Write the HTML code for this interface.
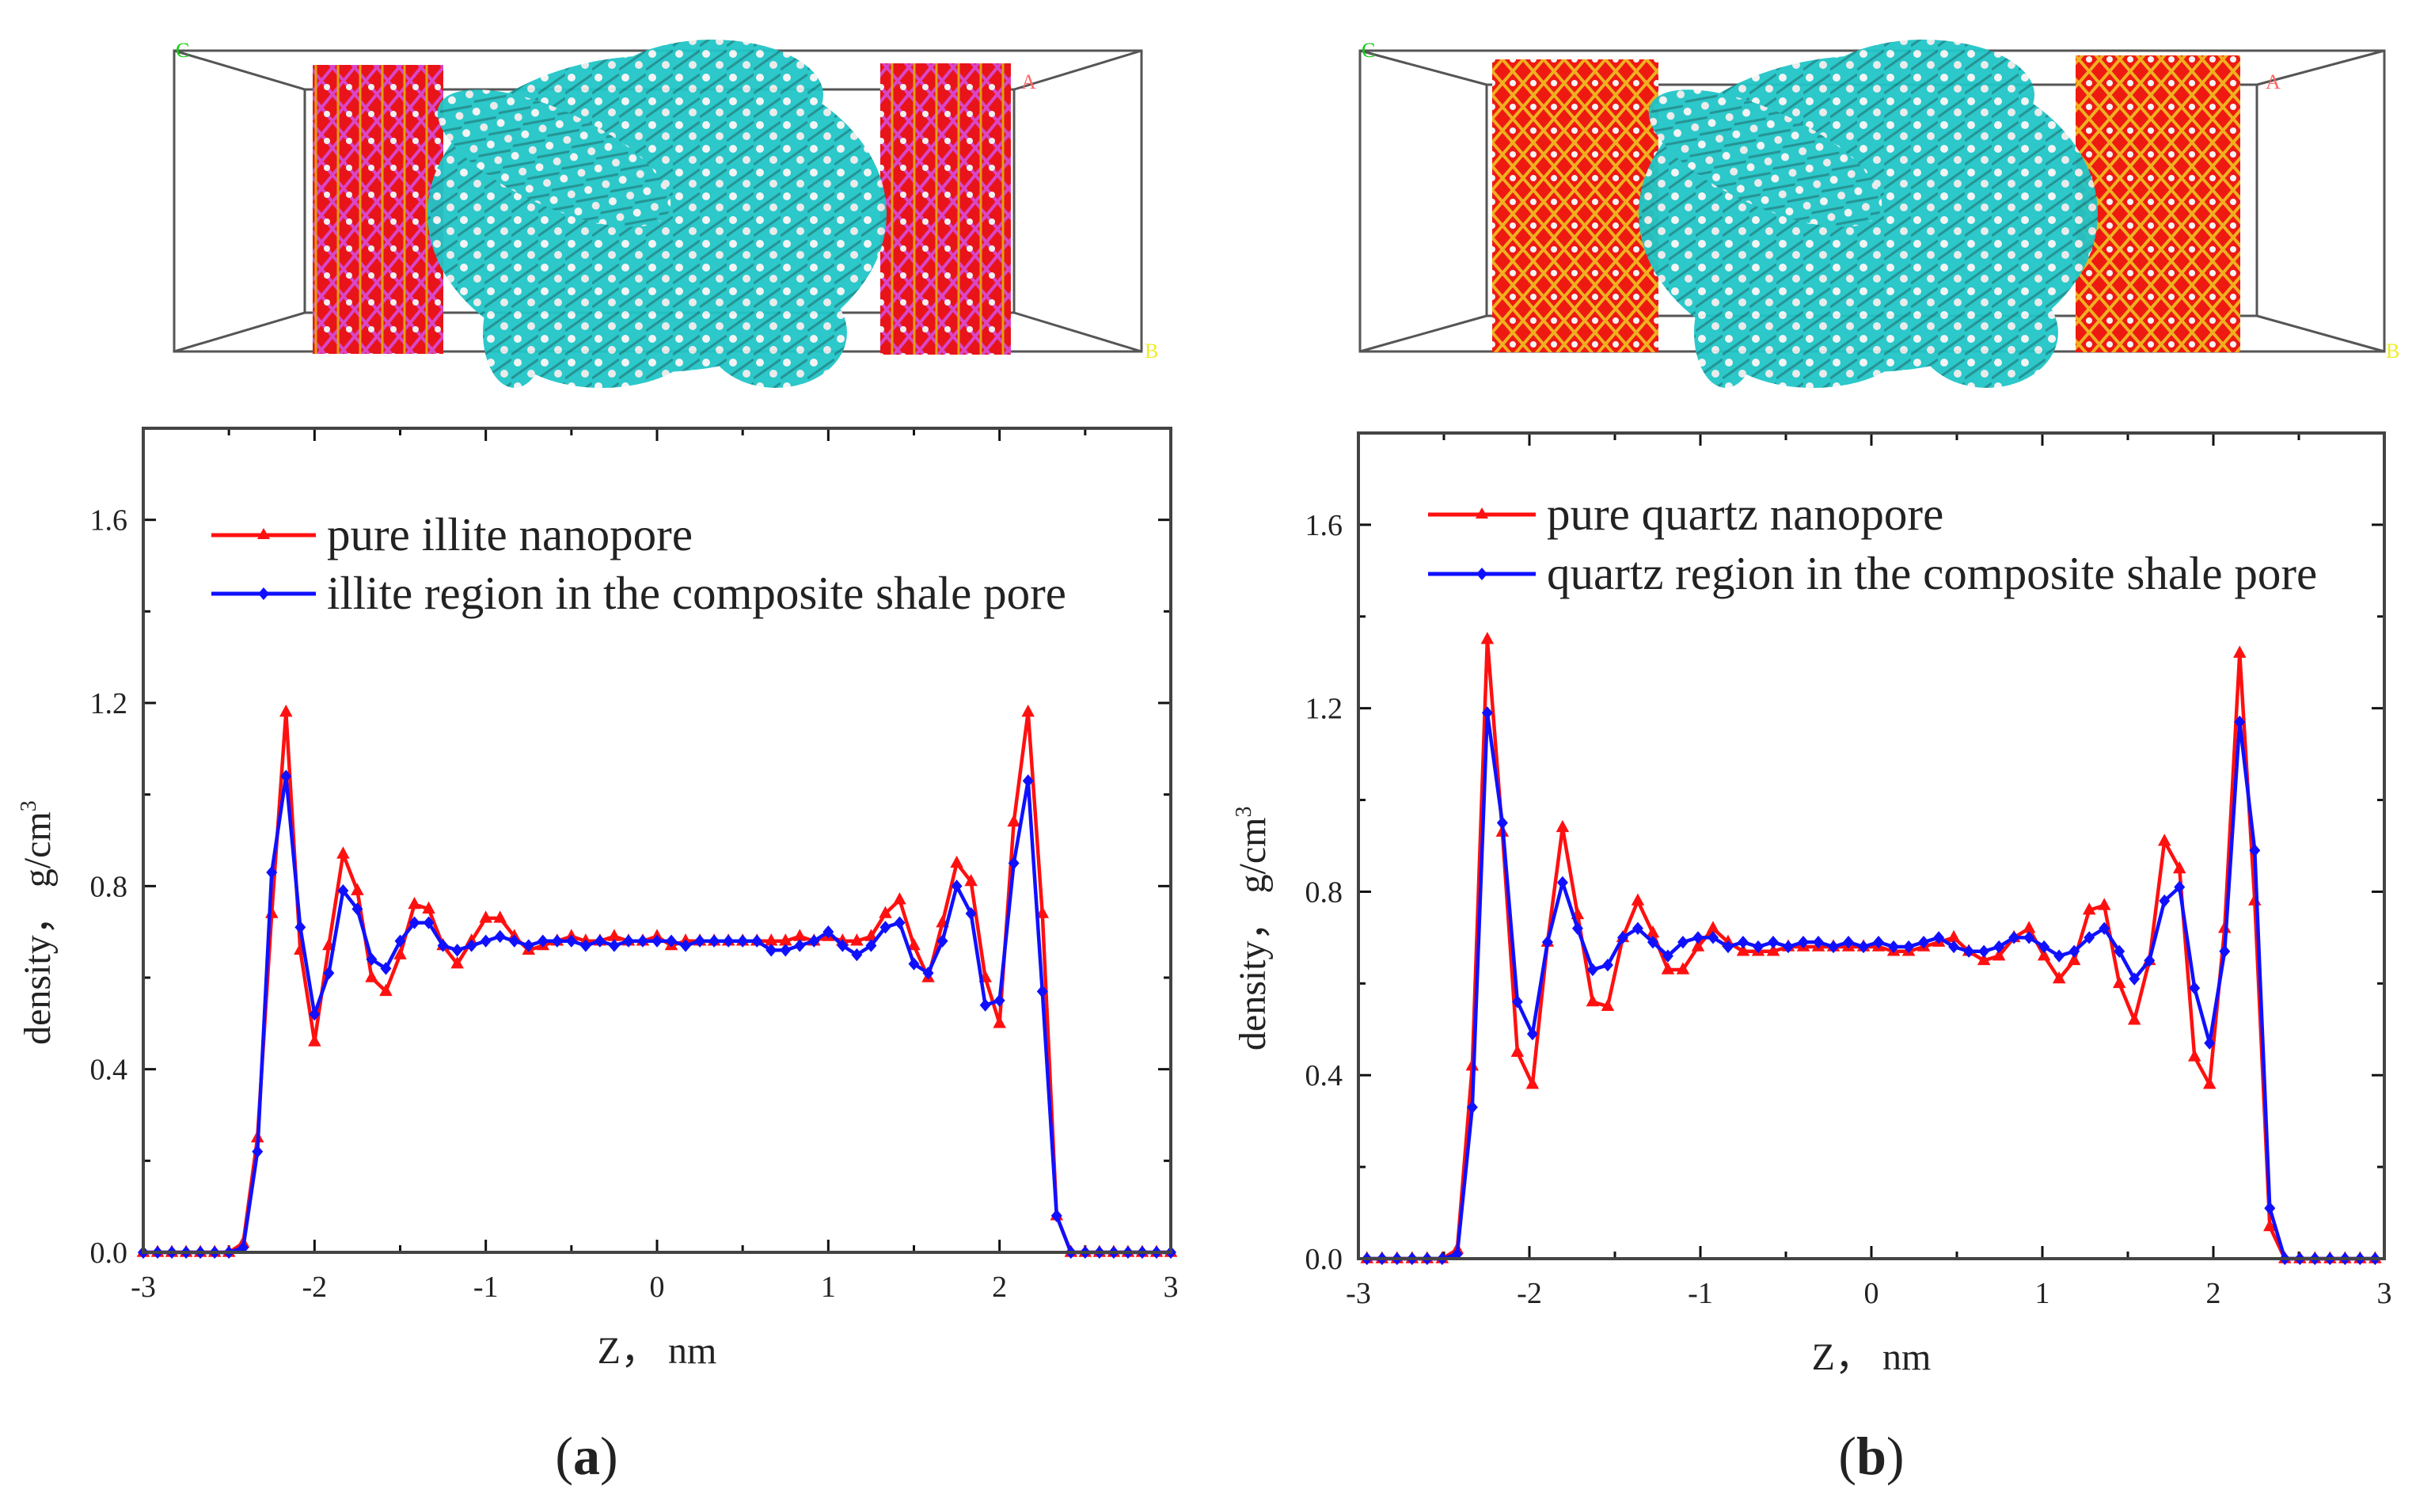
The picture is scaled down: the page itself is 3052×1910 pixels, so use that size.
<!DOCTYPE html>
<html><head><meta charset="utf-8"><style>
html,body{margin:0;padding:0;background:#fff;}
svg{display:block;}
text{font-family:"Liberation Serif",serif;fill:#222;}
</style></head><body>
<svg id="fig" width="3052" height="1910" viewBox="0 0 3052 1910" xmlns="http://www.w3.org/2000/svg">
<defs>
<pattern id="slabA" width="28" height="34" patternUnits="userSpaceOnUse">
<rect width="28" height="34" fill="#e8141a"/>
<path d="M0 17 L14 0 L28 17 L14 34 Z" fill="none" stroke="#d946c8" stroke-width="4"/>
<path d="M7 0 L7 34" stroke="#e0a010" stroke-width="3"/>
<circle cx="21" cy="8" r="4" fill="#f0f0f0"/>
</pattern>
<pattern id="slabB" width="26" height="30" patternUnits="userSpaceOnUse">
<rect width="26" height="30" fill="#ee1a12"/>
<path d="M0 15 L13 0 L26 15 L13 30 Z" fill="none" stroke="#f0b020" stroke-width="4"/>
<circle cx="13" cy="15" r="4" fill="#f5f5f5"/>
</pattern>
<pattern id="oil" width="34" height="30" patternUnits="userSpaceOnUse">
<rect width="34" height="30" fill="#21c6c8"/>
<circle cx="8" cy="8" r="5" fill="#f4f4f4"/>
<circle cx="25" cy="22" r="5" fill="#eaeaea"/>
<path d="M0 28 L34 4" stroke="#1a8f90" stroke-width="3"/>
</pattern>
</defs>
<g id="topA">
<path d="M220 64 H1442 V444 H220 Z M385 113 H1281 V395 H385 Z M220 64 L385 113 M1442 64 L1281 113 M220 444 L385 395 M1442 444 L1281 395" fill="none" stroke="#555" stroke-width="3"/>
<rect x="395" y="82" width="165" height="365" fill="url(#slabA)"/>
<rect x="1112" y="80" width="165" height="368" fill="url(#slabA)"/>
<g fill="url(#oil)" opacity="0.95">
<ellipse cx="830" cy="270" rx="290" ry="200"/>
<ellipse cx="700" cy="200" rx="160" ry="60" transform="rotate(25 700 200)"/>
<ellipse cx="900" cy="120" rx="140" ry="70"/>
<ellipse cx="760" cy="430" rx="120" ry="60"/>
<ellipse cx="980" cy="420" rx="90" ry="70"/>
<ellipse cx="650" cy="420" rx="40" ry="70"/>
</g>
<text x="222" y="72" font-size="26" style="fill:#1c1">C</text>
<text x="1290" y="112" font-size="26" style="fill:#f66">A</text>
<text x="1446" y="452" font-size="26" style="fill:#ee2">B</text>
</g>
<g id="topB">
<path d="M1718 64 H3012 V444 H1718 Z M1878 107 H2851 V399 H1878 Z M1718 64 L1878 107 M3012 64 L2851 107 M1718 444 L1878 399 M3012 444 L2851 399" fill="none" stroke="#555" stroke-width="3"/>
<rect x="1885" y="75" width="210" height="370" fill="url(#slabB)"/>
<rect x="2622" y="70" width="208" height="375" fill="url(#slabB)"/>
<g fill="url(#oil)" opacity="0.95">
<ellipse cx="2360" cy="270" rx="290" ry="200"/>
<ellipse cx="2230" cy="200" rx="160" ry="60" transform="rotate(25 2230 200)"/>
<ellipse cx="2430" cy="120" rx="140" ry="70"/>
<ellipse cx="2290" cy="430" rx="120" ry="60"/>
<ellipse cx="2510" cy="420" rx="90" ry="70"/>
<ellipse cx="2180" cy="420" rx="40" ry="70"/>
</g>
<text x="1720" y="72" font-size="26" style="fill:#1c1">C</text>
<text x="2862" y="112" font-size="26" style="fill:#f66">A</text>
<text x="3014" y="452" font-size="26" style="fill:#ee2">B</text>
</g>
<g id="chartA"></g>
<g id="chartB"></g>
</svg>
<script>
// Chart (a): x = -3 + i/12 (73 points)
const xStepA = 1/12;
const redA = [0,0,0,0,0,0,0,0.02,0.25,0.74,1.18,0.66,0.46,0.67,0.87,0.79,0.60,0.57,0.65,0.76,0.75,0.67,0.63,0.68,0.73,0.73,0.69,0.66,
0.67,0.68,0.69,0.68,0.68,0.69,0.68,0.68,0.69,0.67,0.68,0.68,0.68,0.68,0.68,0.68,0.68,0.68,0.69,0.68,
0.69,0.68,0.68,0.69,0.74,0.77,0.67,0.60,0.72,0.85,0.81,0.60,0.50,0.94,1.18,0.74,0.08,0,0,0,0,0,0,0,0];
const blueA = [0,0,0,0,0,0,0,0.01,0.22,0.83,1.04,0.71,0.52,0.61,0.79,0.75,0.64,0.62,0.68,0.72,0.72,0.67,0.66,0.67,0.68,0.69,0.68,0.67,
0.68,0.68,0.68,0.67,0.68,0.67,0.68,0.68,0.68,0.68,0.67,0.68,0.68,0.68,0.68,0.68,0.66,0.66,0.67,0.68,
0.70,0.67,0.65,0.67,0.71,0.72,0.63,0.61,0.68,0.80,0.74,0.54,0.55,0.85,1.03,0.57,0.08,0,0,0,0,0,0,0,0];
// Chart (b): x = -2.95 + i*0.088
const xStartB = -2.95, xStepB = 0.088;
const redB = [0,0,0,0,0,0,0.02,0.42,1.35,0.93,0.45,0.38,0.69,0.94,0.75,0.56,0.55,0.70,0.78,0.71,0.63,0.63,0.68,0.72,0.69,0.67,0.67,0.67,0.68,0.68,0.68,0.68,0.68,0.68,0.68,0.67,0.67,0.68,0.69,0.70,0.67,0.65,0.66,0.70,0.72,0.66,0.61,0.65,0.76,0.77,0.60,0.52,0.65,0.91,0.85,0.44,0.38,0.72,1.32,0.78,0.07,0,0,0,0,0,0,0];
const blueB = [0,0,0,0,0,0,0.01,0.33,1.19,0.95,0.56,0.49,0.69,0.82,0.72,0.63,0.64,0.70,0.72,0.69,0.66,0.69,0.70,0.70,0.68,0.69,0.68,0.69,0.68,0.69,0.69,0.68,0.69,0.68,0.69,0.68,0.68,0.69,0.70,0.68,0.67,0.67,0.68,0.70,0.70,0.68,0.66,0.67,0.70,0.72,0.67,0.61,0.65,0.78,0.81,0.59,0.47,0.67,1.17,0.89,0.11,0,0,0,0,0,0,0];
const xTicks = [-3,-2,-1,0,1,2,3];
const yTicks = [0.0,0.4,0.8,1.2,1.6];
const legendA = ["pure illite nanopore","illite region in the composite shale pore"];
const legendB = ["pure quartz nanopore","quartz region in the composite shale pore"];

const NS="http://www.w3.org/2000/svg";
function mk(parent,tag,attrs,txt){const e=document.createElementNS(NS,tag);for(const k in attrs)e.setAttribute(k,attrs[k]);if(txt!==undefined)e.textContent=txt;parent.appendChild(e);return e;}

function drawChart(g, box, xs, red, blue, legend, lg, letter, cap){
  const X=v=>box.l+(v+3)/6*(box.r-box.l);
  const Y=v=>box.b-v/1.8*(box.b-box.t);
  for(let k=0;k<=12;k++){
    const v=-3+k*0.5, major=k%2===0, L=major?16:9;
    const t1=mk(g,'line',{x1:X(v),x2:X(v),y1:box.b,y2:box.b-L,stroke:'#111','stroke-width':3});
    
    
    const t2=mk(g,'line',{x1:X(v),x2:X(v),y1:box.t,y2:box.t+L,stroke:'#111','stroke-width':3});
    
    
  }
  for(let k=0;k<=9;k++){
    const v=k*0.2, major=k%2===0, L=major?16:9;
    const t1=mk(g,'line',{x1:box.l,x2:box.l+L,y1:Y(v),y2:Y(v),stroke:'#111','stroke-width':3});
    
    
    const t2=mk(g,'line',{x1:box.r,x2:box.r-L,y1:Y(v),y2:Y(v),stroke:'#111','stroke-width':3});
    
    
  }
  xTicks.forEach(v=>{
    const t=mk(g,'text',{x:X(v),y:box.b+56,'font-size':38,'text-anchor':'middle'},String(v));
    
    
  });
  yTicks.forEach(v=>{
    const t=mk(g,'text',{x:box.l-20,y:Y(v)+13,'font-size':38,'text-anchor':'end'},v.toFixed(1));
    
    
  });
  function series(vals,color,marker,name){
    const pts=vals.map((v,i)=>[X(xs(i)),Y(v)]);
    const pl=mk(g,'polyline',{points:pts.map(p=>p.join(',')).join(' '),fill:'none',stroke:color,'stroke-width':4.5,'stroke-linejoin':'round'});
    
    
    pts.forEach(p=>{
      let m;
      if(marker==='tri') m=mk(g,'path',{d:`M${p[0]} ${p[1]-8} L${p[0]+7} ${p[1]+5} L${p[0]-7} ${p[1]+5} Z`,fill:color,stroke:color,'stroke-width':1.5});
      else m=mk(g,'path',{d:`M${p[0]} ${p[1]-7} L${p[0]+6} ${p[1]} L${p[0]} ${p[1]+7} L${p[0]-6} ${p[1]} Z`,fill:color,stroke:color,'stroke-width':1.5});
      
      
    });
  }
  series(red,'#ff1010','tri','red-series');
  series(blue,'#1010ff','dia','blue-series');
  const f=mk(g,'rect',{x:box.l,y:box.t,width:box.r-box.l,height:box.b-box.t,fill:'none',stroke:'#444','stroke-width':4});
  
  
  [[legend[0],'#ff1010','tri',lg.y1],[legend[1],'#1010ff','dia',lg.y2]].forEach(([t,c,mkr,y])=>{
    const ln=mk(g,'line',{x1:lg.x1,x2:lg.x2,y1:y,y2:y,stroke:c,'stroke-width':5});
    
    
    const cx=(lg.x1+lg.x2)/2;
    const m=mkr==='tri'?mk(g,'path',{d:`M${cx} ${y-9} L${cx+8} ${y+5} L${cx-8} ${y+5} Z`,fill:c}):mk(g,'path',{d:`M${cx} ${y-8} L${cx+7} ${y} L${cx} ${y+8} L${cx-7} ${y} Z`,fill:c});
    
    
    const tx=mk(g,'text',{x:lg.x2+14,y:y+19,'font-size':59},t);
    
    
  });
  const cx=(box.l+box.r)/2;
  const xt=mk(g,'text',{x:cx,y:box.b+140,'font-size':48,'text-anchor':'middle'},'Z，  nm');
  
  
  const yt=mk(g,'text',{x:0,y:0,'font-size':48,'text-anchor':'middle',transform:`translate(${box.l-118},${Y(0.72)}) rotate(-90)`});
  
  
  mk(yt,'tspan',{},'density，  g/cm');
  mk(yt,'tspan',{'font-size':28,dy:-18},'3');
  const cp=mk(g,'text',{x:cap.x,y:cap.y,'font-size':68,'text-anchor':'middle'});
  
  
  mk(cp,'tspan',{},'(');
  mk(cp,'tspan',{'font-weight':'bold'},letter);
  mk(cp,'tspan',{},')');
}
drawChart(document.getElementById('chartA'),{l:181,r:1479,t:541,b:1582},i=>-3+i*xStepA,redA,blueA,legendA,{x1:267,x2:399,y1:676,y2:750},'a',{x:741,y:1862});
drawChart(document.getElementById('chartB'),{l:1716,r:3012,t:547,b:1590},i=>xStartB+i*xStepB,redB,blueB,legendB,{x1:1804,x2:1940,y1:650,y2:725},'b',{x:2364,y:1862});
</script>
</body></html>
